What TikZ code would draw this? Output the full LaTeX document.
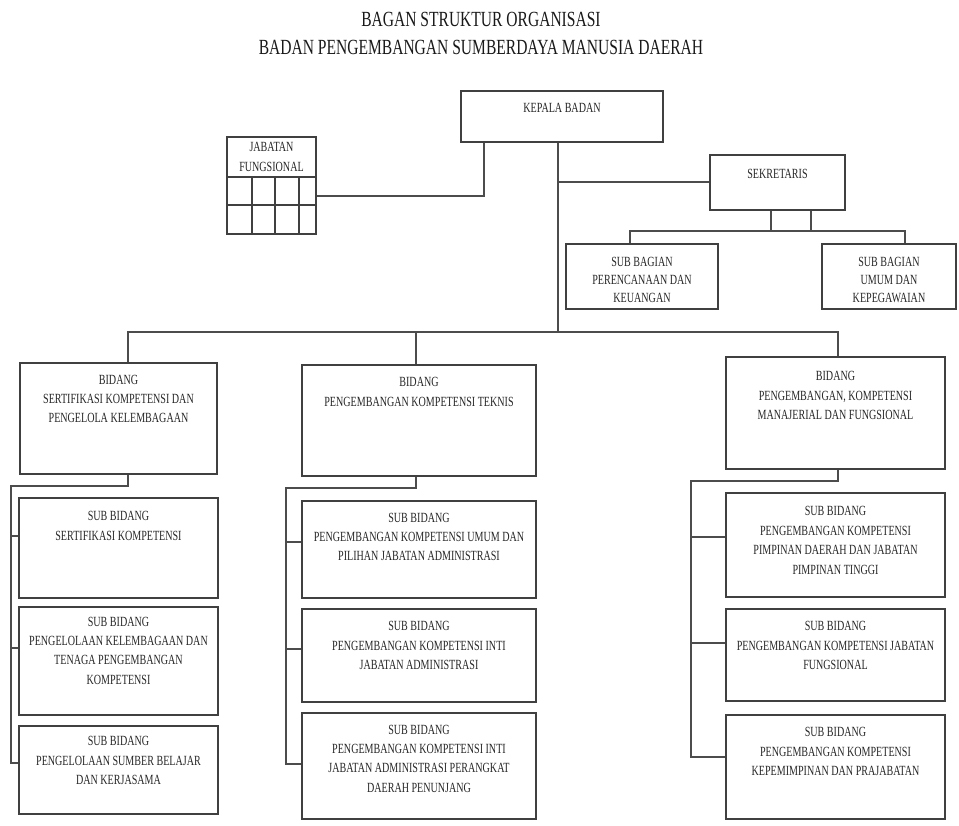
\documentclass[tikz,border=0pt]{standalone}
\usepackage{fontspec}
\setmainfont{Liberation Serif}[FakeStretch=0.72]
\usetikzlibrary{fit}
\begin{document}
\begin{tikzpicture}[x=0.75pt,y=-0.75pt,
 box/.style={draw=black!75, line width=1.4pt, inner sep=0pt},
 con/.style={draw=black!70, line width=1.1pt},
 txt/.style={anchor=north, align=center, inner sep=0pt, text=black!85, font=\fontsize{10.5pt}{14.6pt}\selectfont},
 ttl/.style={align=center, inner sep=0pt, text=black!90, font=\fontsize{16.2pt}{21pt}\selectfont}]
\useasboundingbox (0,0) rectangle (959,825);

\node[ttl] (title) at (481,33) {BAGAN STRUKTUR ORGANISASI\\BADAN PENGEMBANGAN SUMBERDAYA MANUSIA DAERAH};

% boxes
\node[box, fit={(461,91) (663,142)}] (kepala) {};
\node[box, fit={(227,137) (316,234)}] (jab) {};
\node[box, fit={(710,155) (845,210)}] (sek) {};
\node[box, fit={(566,244) (718,309)}] (sbp) {};
\node[box, fit={(822,244) (956,309)}] (sbu) {};
\node[box, fit={(20,363) (217,474)}] (b1) {};
\node[box, fit={(302,365) (536,476)}] (b2) {};
\node[box, fit={(726,357) (945,469)}] (b3) {};
\node[box, fit={(19,498) (218,598)}] (s11) {};
\node[box, fit={(19,607) (218,715)}] (s12) {};
\node[box, fit={(19,726) (218,814)}] (s13) {};
\node[box, fit={(302,501) (536,598)}] (s21) {};
\node[box, fit={(302,609) (536,702)}] (s22) {};
\node[box, fit={(302,713) (536,819)}] (s23) {};
\node[box, fit={(726,493) (945,597)}] (s31) {};
\node[box, fit={(726,609) (945,701)}] (s32) {};
\node[box, fit={(726,715) (945,819)}] (s33) {};

% jabatan fungsional grid
\draw[box] (227,177) -- (316,177) (227,205) -- (316,205)
  (252,177) -- (252,234) (275,177) -- (275,234) (299,177) -- (299,234);

% texts
\node[txt] at ([yshift=-10pt]kepala.north) {KEPALA BADAN};
\node[txt, font=\fontsize{10.5pt}{15pt}\selectfont] at ([yshift=-4.8pt]jab.north) {JABATAN\\FUNGSIONAL};
\node[txt] at ([yshift=-11.5pt]sek.north) {SEKRETARIS};
\node[txt, font=\fontsize{10.5pt}{13.5pt}\selectfont] at ([yshift=-10.5pt]sbp.north) {SUB BAGIAN\\PERENCANAAN DAN\\KEUANGAN};
\node[txt, font=\fontsize{10.5pt}{13.5pt}\selectfont] at ([yshift=-10.5pt]sbu.north) {SUB BAGIAN\\UMUM DAN\\KEPEGAWAIAN};
\node[txt] at ([yshift=-9.3pt]b1.north) {BIDANG\\SERTIFIKASI KOMPETENSI DAN\\PENGELOLA KELEMBAGAAN};
\node[txt] at ([yshift=-10pt]b2.north) {BIDANG\\PENGEMBANGAN KOMPETENSI TEKNIS};
\node[txt] at ([yshift=-11.5pt]b3.north) {BIDANG\\PENGEMBANGAN, KOMPETENSI\\MANAJERIAL DAN FUNGSIONAL};
\node[txt] at ([yshift=-10.5pt]s11.north) {SUB BIDANG\\SERTIFIKASI KOMPETENSI};
\node[txt] at ([yshift=-7.8pt]s12.north) {SUB BIDANG\\PENGELOLAAN KELEMBAGAAN DAN\\TENAGA PENGEMBANGAN\\KOMPETENSI};
\node[txt] at ([yshift=-8.5pt]s13.north) {SUB BIDANG\\PENGELOLAAN SUMBER BELAJAR\\DAN KERJASAMA};
\node[txt] at ([yshift=-9.3pt]s21.north) {SUB BIDANG\\PENGEMBANGAN KOMPETENSI UMUM DAN\\PILIHAN JABATAN ADMINISTRASI};
\node[txt] at ([yshift=-10pt]s22.north) {SUB BIDANG\\PENGEMBANGAN KOMPETENSI INTI\\JABATAN ADMINISTRASI};
\node[txt] at ([yshift=-9.3pt]s23.north) {SUB BIDANG\\PENGEMBANGAN KOMPETENSI INTI\\JABATAN ADMINISTRASI PERANGKAT\\DAERAH PENUNJANG};
\node[txt] at ([yshift=-10.5pt]s31.north) {SUB BIDANG\\PENGEMBANGAN KOMPETENSI\\PIMPINAN DAERAH DAN JABATAN\\PIMPINAN TINGGI};
\node[txt] at ([yshift=-10pt]s32.north) {SUB BIDANG\\PENGEMBANGAN KOMPETENSI JABATAN\\FUNGSIONAL};
\node[txt] at ([yshift=-10pt]s33.north) {SUB BIDANG\\PENGEMBANGAN KOMPETENSI\\KEPEMIMPINAN DAN PRAJABATAN};

% named junction coordinates
\coordinate (jj) at (484,196);
\coordinate (spine) at (558,332);
\coordinate (sekj) at (558,182);
\coordinate (sbusL) at (630,231);
\coordinate (sbusR) at (905,231);
\coordinate (busL) at (128,332);
\coordinate (busM) at (416,332);
\coordinate (busR) at (838,332);
\coordinate (l1) at (128,486);
\coordinate (l2) at (11,486);
\coordinate (m1) at (416,488);
\coordinate (m2) at (286,488);
\coordinate (r1) at (838,481);
\coordinate (r2) at (691,481);

% connectors
\draw[con] (kepala.south -| jj) -- (jj) -- (jab.east |- jj);
\draw[con] (kepala.south -| spine) -- (spine);
\draw[con] (sekj) -- (sek.west |- sekj);
\draw[con] (sek.south -| 771,0) -- (771,231);
\draw[con] (sek.south -| 811,0) -- (811,231);
\draw[con] (sbp.north -| sbusL) -- (sbusL) -- (sbusR) -- (sbu.north -| sbusR);
\draw[con, line width=1.7pt] (707,231) -- (811,231);
\draw[con] (b1.north -| busL) -- (busL) -- (busR) -- (b3.north -| busR);
\draw[con] (busM) -- (b2.north -| busM);

\draw[con] (b1.south -| l1) -- (l1) -- (l2) -- (11,763) -- (s13.west |- 0,763);
\draw[con] (11,536) -- (s11.west |- 0,536);
\draw[con] (11,648) -- (s12.west |- 0,648);

\draw[con] (b2.south -| m1) -- (m1) -- (m2) -- (286,764) -- (s23.west |- 0,764);
\draw[con] (286,542) -- (s21.west |- 0,542);
\draw[con] (286,649) -- (s22.west |- 0,649);

\draw[con] (b3.south -| r1) -- (r1) -- (r2) -- (691,757) -- (s33.west |- 0,757);
\draw[con] (691,537) -- (s31.west |- 0,537);
\draw[con] (691,643) -- (s32.west |- 0,643);
\end{tikzpicture}
\end{document}
